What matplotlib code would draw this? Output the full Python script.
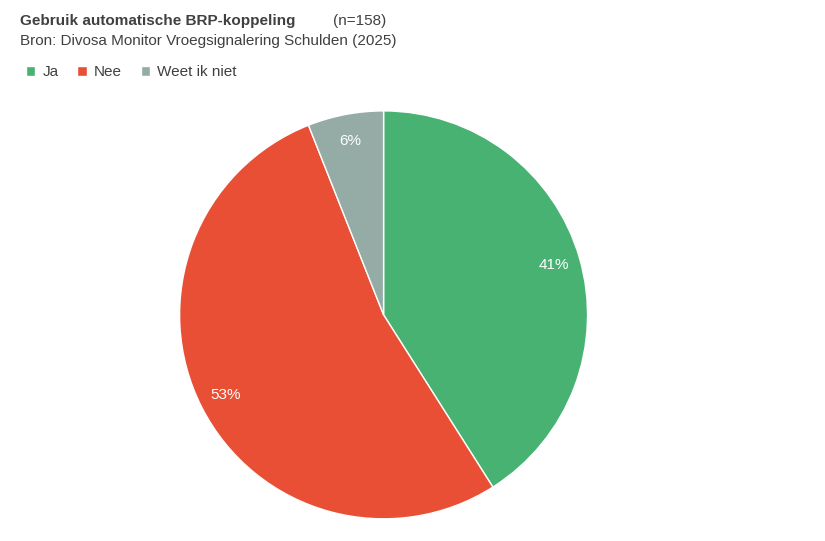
import matplotlib.pyplot as plt

labels = ["Ja", "Nee", "Weet ik niet"]
values = [41, 53, 6]
colors = ["#48B273", "#E84F35", "#95ABA5"]

fig = plt.figure(figsize=(8.25, 5.41), dpi=100)
ax = fig.add_axes([0.465 - 0.2473, 0.418 - 0.377, 0.4945, 0.754])
wedges, texts = ax.pie(values, colors=colors, startangle=90, counterclock=False,
                       wedgeprops=dict(edgecolor="white", linewidth=1))
for w, v in zip(wedges, values):
    import numpy as np
    ang = np.deg2rad((w.theta1 + w.theta2) / 2)
    ax.text(0.87 * np.cos(ang), 0.87 * np.sin(ang), f"{v}%", color="white", fontsize=11,
            family="Liberation Sans", ha="center", va="center")
ax.set_aspect("auto")
ax.set_xlim(-1, 1)
ax.set_ylim(-1, 1)

fig.text(0.024, 0.962, "Gebruik automatische BRP-koppeling", fontsize=11, fontweight="bold",
         color="#404040", family="Liberation Sans", va="center")
fig.text(0.404, 0.962, "(n=158)", fontsize=11, color="#404040", family="Liberation Sans", va="center")
fig.text(0.024, 0.925, "Bron: Divosa Monitor Vroegsignalering Schulden (2025)", fontsize=11,
         color="#404040", family="Liberation Sans", va="center")

fig.legend(wedges, labels, loc="upper left", bbox_to_anchor=(0.015, 0.905), ncol=3, frameon=False,
           handlelength=0.6, handleheight=0.6, handletextpad=0.5, columnspacing=1.2,
           prop=dict(family="Liberation Sans", size=11), labelcolor="#404040")

fig.savefig("out.png", dpi=100)
